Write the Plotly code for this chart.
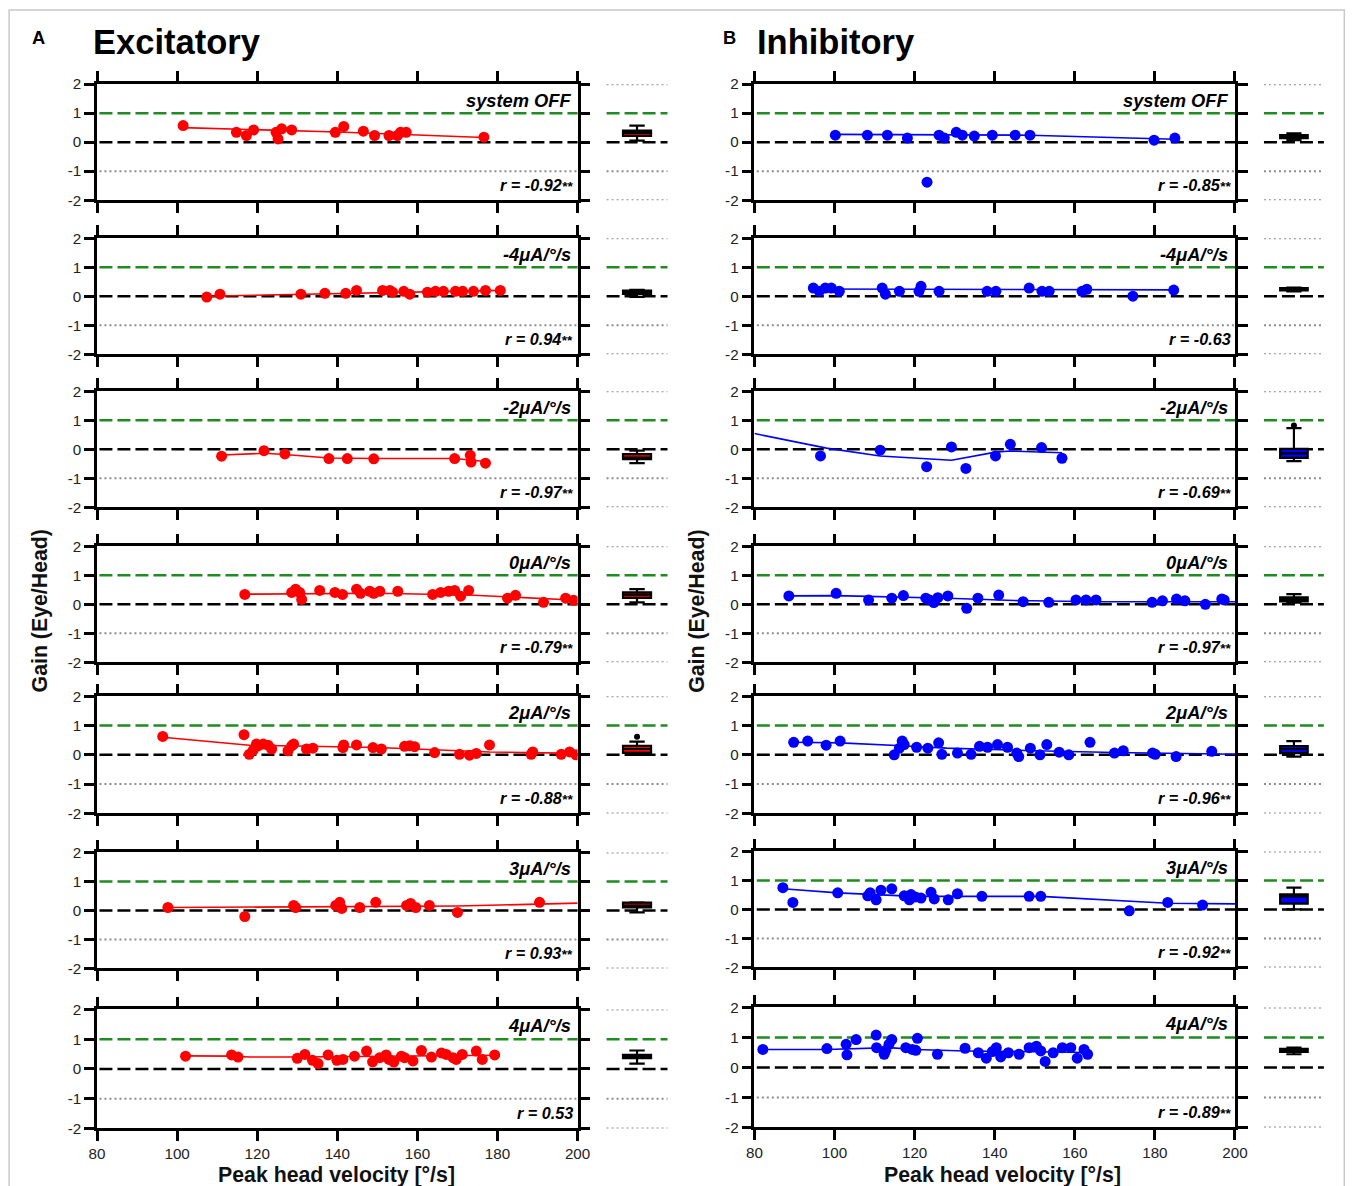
import plotly.graph_objects as go

# Measured from earlier renders: the photographed page appears at ~1356/1376 scale
# with the browser's default 8px body margin. Geometry below is given in reference
# pixels and converted to figure coordinates.
REF_W, REF_H = 1356, 1186
S = 1376 / 1356
OFF = 8
W, H = 1360, 1196

# ---------------- DATA ----------------
CONDITION_LABELS = ["system OFF", "-4μA/°/s", "-2μA/°/s", "0μA/°/s", "2μA/°/s", "3μA/°/s", "4μA/°/s"]
X_TICKS = [80, 100, 120, 140, 160, 180, 200]
Y_TICKS = [-2, -1, 0, 1, 2]
Y_TICK_TEXT = ["-2", "-1", "0", "1", "2"]

EXC_R = ["r = -0.92**", "r = 0.94**", "r = -0.97**", "r = -0.79**", "r = -0.88**", "r = 0.93**", "r = 0.53"]
INH_R = ["r = -0.85**", "r = -0.63", "r = -0.69**", "r = -0.97**", "r = -0.96**", "r = -0.92**", "r = -0.89**"]

# Excitatory
EXC_OFF_V = [101.5, 114.8, 117.3, 119.1, 124.7, 125.2, 126.1, 128.6, 139.5, 141.6, 146.5, 149.3, 152.9, 155.0, 155.8, 157.2, 176.6]
EXC_OFF_G = [0.57, 0.34, 0.23, 0.42, 0.34, 0.11, 0.46, 0.42, 0.34, 0.54, 0.38, 0.23, 0.23, 0.23, 0.34, 0.34, 0.17]
EXC_OFF_FIT_V = [101.5, 140.0, 176.6]
EXC_OFF_FIT_G = [0.50, 0.35, 0.16]

EXC_M4_V = [107.4, 110.7, 130.9, 136.9, 142.1, 144.8, 151.3, 153.1, 153.8, 156.6, 158.1, 162.5, 164.5, 166.5, 169.5, 171.3, 174.0, 177.0, 180.7]
EXC_M4_G = [-0.03, 0.07, 0.07, 0.10, 0.10, 0.20, 0.20, 0.20, 0.14, 0.17, 0.07, 0.14, 0.17, 0.17, 0.17, 0.17, 0.17, 0.20, 0.20]
EXC_M4_FIT_V = [107.4, 140.0, 180.7]
EXC_M4_FIT_G = [0.00, 0.10, 0.20]

EXC_M2_V = [111.1, 121.7, 126.9, 137.9, 142.5, 149.1, 169.3, 173.2, 173.4, 177.0]
EXC_M2_G = [-0.24, -0.05, -0.16, -0.32, -0.32, -0.33, -0.32, -0.21, -0.44, -0.48]
EXC_M2_FIT_V = [111.1, 121.7, 126.9, 137.9, 149.1, 169.3, 177.0]
EXC_M2_FIT_G = [-0.20, -0.14, -0.18, -0.30, -0.32, -0.32, -0.42]

EXC_0_V = [116.9, 128.6, 129.6, 130.6, 131.1, 135.6, 139.4, 141.3, 144.8, 145.8, 148.1, 149.1, 150.6, 155.1, 163.8, 165.8, 167.8, 169.3, 170.8, 172.8, 182.5, 184.5, 191.5, 197.0, 199.0]
EXC_0_G = [0.34, 0.41, 0.52, 0.41, 0.17, 0.48, 0.41, 0.34, 0.52, 0.38, 0.45, 0.38, 0.45, 0.45, 0.34, 0.41, 0.45, 0.48, 0.28, 0.48, 0.21, 0.31, 0.07, 0.21, 0.14]
EXC_0_FIT_V = [116.9, 150.0, 172.8, 200.0]
EXC_0_FIT_G = [0.35, 0.38, 0.32, 0.14]

EXC_2_V = [96.4, 116.7, 118.0, 119.0, 119.8, 120.2, 121.5, 122.7, 123.6, 127.7, 128.6, 129.1, 132.3, 133.9, 141.4, 141.6, 144.8, 148.9, 151.0, 156.8, 158.1, 159.3, 164.3, 170.5, 173.0, 174.7, 178.0, 188.4, 188.8, 195.9, 198.0, 199.6]
EXC_2_G = [0.63, 0.69, 0.02, 0.16, 0.37, 0.31, 0.37, 0.33, 0.20, 0.14, 0.31, 0.37, 0.20, 0.23, 0.25, 0.34, 0.34, 0.25, 0.20, 0.29, 0.31, 0.28, 0.08, 0.02, -0.01, 0.05, 0.34, 0.02, 0.10, 0.02, 0.10, 0.00]
EXC_2_FIT_V = [96.4, 118.0, 150.0, 178.0, 200.0]
EXC_2_FIT_G = [0.60, 0.33, 0.25, 0.10, 0.05]

EXC_3_V = [97.7, 116.9, 129.1, 129.6, 139.6, 140.6, 141.1, 145.6, 149.6, 157.3, 158.3, 159.6, 163.0, 170.0, 190.5]
EXC_3_G = [0.10, -0.21, 0.17, 0.10, 0.17, 0.28, 0.07, 0.10, 0.28, 0.17, 0.24, 0.10, 0.17, -0.07, 0.28]
EXC_3_FIT_V = [97.7, 140.0, 170.0, 200.0]
EXC_3_FIT_G = [0.10, 0.12, 0.15, 0.25]

EXC_4_V = [102.1, 113.6, 115.2, 130.0, 131.9, 133.8, 135.2, 137.7, 139.9, 141.4, 144.3, 147.3, 148.8, 150.6, 152.2, 152.9, 154.1, 156.0, 156.8, 158.9, 161.0, 163.5, 166.0, 167.2, 168.9, 169.7, 171.2, 174.7, 176.2, 179.3]
EXC_4_G = [0.43, 0.47, 0.40, 0.36, 0.49, 0.29, 0.18, 0.47, 0.29, 0.32, 0.43, 0.60, 0.24, 0.38, 0.47, 0.32, 0.23, 0.43, 0.38, 0.27, 0.62, 0.40, 0.54, 0.49, 0.38, 0.32, 0.49, 0.60, 0.32, 0.47]
EXC_4_FIT_V = [102.1, 113.6, 118.0, 130.0, 179.3]
EXC_4_FIT_G = [0.44, 0.43, 0.40, 0.40, 0.46]

# Inhibitory
INH_OFF_V = [100.2, 108.2, 113.2, 118.2, 123.1, 126.1, 127.4, 130.4, 131.9, 134.9, 139.4, 145.1, 148.8, 179.8, 185.0]
INH_OFF_G = [0.24, 0.24, 0.24, 0.14, -1.38, 0.24, 0.14, 0.34, 0.24, 0.21, 0.24, 0.24, 0.24, 0.07, 0.14]
INH_OFF_FIT_V = [100.2, 148.8, 185.0]
INH_OFF_FIT_G = [0.27, 0.24, 0.10]

INH_M4_V = [94.7, 96.2, 97.7, 99.2, 101.2, 111.9, 112.7, 116.2, 121.1, 121.6, 126.1, 138.1, 140.3, 148.6, 151.8, 153.6, 161.8, 163.0, 174.5, 184.7]
INH_M4_G = [0.28, 0.17, 0.28, 0.28, 0.17, 0.28, 0.07, 0.17, 0.17, 0.34, 0.17, 0.17, 0.17, 0.28, 0.17, 0.17, 0.17, 0.24, 0.00, 0.21]
INH_M4_FIT_V = [94.7, 184.7]
INH_M4_FIT_G = [0.25, 0.22]

INH_M2_V = [96.5, 111.4, 123.0, 129.2, 132.8, 140.2, 143.9, 151.7, 156.8]
INH_M2_G = [-0.23, -0.03, -0.60, 0.08, -0.66, -0.23, 0.17, 0.06, -0.31]
INH_M2_FIT_V = [80.0, 98.0, 111.4, 129.2, 140.2, 143.9, 156.8]
INH_M2_FIT_G = [0.54, 0.04, -0.23, -0.38, -0.10, -0.06, -0.12]

INH_0_V = [88.6, 100.4, 108.5, 114.3, 117.2, 122.8, 123.7, 124.8, 125.8, 128.3, 133.0, 135.8, 141.0, 147.1, 153.5, 160.3, 162.8, 165.3, 179.3, 181.9, 185.4, 187.5, 192.6, 196.7, 197.3]
INH_0_G = [0.29, 0.38, 0.15, 0.21, 0.30, 0.21, 0.15, 0.06, 0.23, 0.29, -0.14, 0.21, 0.32, 0.09, 0.07, 0.15, 0.15, 0.15, 0.07, 0.12, 0.18, 0.12, 0.00, 0.18, 0.15]
INH_0_FIT_V = [88.6, 100.4, 128.3, 145.0, 165.3, 200.0]
INH_0_FIT_G = [0.29, 0.30, 0.21, 0.13, 0.09, 0.09]

INH_2_V = [89.8, 93.3, 97.9, 101.4, 114.9, 116.2, 116.9, 117.4, 120.5, 123.3, 126.0, 126.8, 130.7, 134.1, 136.2, 138.2, 140.7, 143.2, 145.5, 146.0, 148.9, 151.3, 153.0, 156.1, 158.5, 163.8, 169.9, 172.1, 179.4, 180.1, 185.3, 194.2]
INH_2_G = [0.43, 0.47, 0.33, 0.47, 0.00, 0.23, 0.47, 0.35, 0.26, 0.23, 0.41, 0.02, 0.06, 0.02, 0.29, 0.26, 0.35, 0.26, 0.06, -0.06, 0.23, 0.00, 0.35, 0.09, 0.00, 0.43, 0.06, 0.14, 0.06, 0.02, -0.06, 0.12]
INH_2_FIT_V = [89.8, 101.4, 116.9, 128.0, 150.0, 170.0, 200.0]
INH_2_FIT_G = [0.43, 0.41, 0.31, 0.23, 0.14, 0.08, 0.02]

INH_3_V = [87.1, 89.6, 100.8, 108.3, 108.9, 110.4, 111.6, 114.3, 117.4, 118.7, 119.1, 120.2, 121.6, 124.1, 124.9, 128.4, 130.7, 136.8, 148.6, 151.5, 173.6, 183.2, 191.9]
INH_3_G = [0.75, 0.24, 0.57, 0.47, 0.57, 0.33, 0.66, 0.71, 0.47, 0.33, 0.51, 0.43, 0.39, 0.59, 0.36, 0.33, 0.54, 0.45, 0.45, 0.45, -0.05, 0.24, 0.15]
INH_3_FIT_V = [87.1, 100.8, 120.0, 151.5, 183.2, 200.0]
INH_3_FIT_G = [0.71, 0.57, 0.45, 0.45, 0.21, 0.19]

INH_4_V = [82.1, 98.1, 102.9, 103.1, 105.4, 110.4, 110.5, 112.4, 112.8, 113.6, 114.3, 117.8, 119.4, 120.3, 120.7, 125.7, 132.6, 135.9, 137.9, 139.4, 140.4, 141.5, 143.4, 146.1, 148.6, 150.4, 151.5, 152.6, 154.6, 156.9, 159.0, 160.6, 162.3, 163.2]
INH_4_G = [0.60, 0.63, 0.77, 0.42, 0.93, 1.08, 0.66, 0.44, 0.57, 0.77, 0.93, 0.66, 0.60, 0.57, 0.97, 0.44, 0.64, 0.49, 0.31, 0.53, 0.66, 0.35, 0.49, 0.44, 0.66, 0.71, 0.55, 0.20, 0.49, 0.66, 0.66, 0.31, 0.60, 0.44]
INH_4_FIT_V = [82.1, 98.1, 113.6, 120.3, 132.6, 163.2]
INH_4_FIT_G = [0.60, 0.60, 0.66, 0.60, 0.55, 0.50]

# Box summaries: [lower whisker, q1, median, q3, upper whisker]
EXC_BOX = [
    [0.05, 0.22, 0.32, 0.40, 0.57],
    [-0.02, 0.08, 0.15, 0.19, 0.22],
    [-0.48, -0.34, -0.29, -0.17, -0.05],
    [0.07, 0.22, 0.33, 0.41, 0.52],
    [0.00, 0.07, 0.20, 0.31, 0.45],
    [-0.07, 0.10, 0.17, 0.27, 0.28],
    [0.18, 0.36, 0.42, 0.47, 0.62],
]
INH_BOX = [
    [0.07, 0.14, 0.20, 0.24, 0.30],
    [0.17, 0.20, 0.24, 0.28, 0.30],
    [-0.41, -0.30, -0.14, 0.01, 0.73],
    [0.06, 0.10, 0.17, 0.24, 0.35],
    [-0.06, 0.06, 0.20, 0.30, 0.47],
    [0.00, 0.20, 0.45, 0.52, 0.75],
    [0.44, 0.52, 0.57, 0.62, 0.66],
]
EXC_BOX_OUTLIERS = [[], [], [], [], [0.62], [], []]
INH_BOX_OUTLIERS = [[], [], [0.82], [], [], [], []]

EXC_PANELS = [
    (EXC_OFF_V, EXC_OFF_G, EXC_OFF_FIT_V, EXC_OFF_FIT_G),
    (EXC_M4_V, EXC_M4_G, EXC_M4_FIT_V, EXC_M4_FIT_G),
    (EXC_M2_V, EXC_M2_G, EXC_M2_FIT_V, EXC_M2_FIT_G),
    (EXC_0_V, EXC_0_G, EXC_0_FIT_V, EXC_0_FIT_G),
    (EXC_2_V, EXC_2_G, EXC_2_FIT_V, EXC_2_FIT_G),
    (EXC_3_V, EXC_3_G, EXC_3_FIT_V, EXC_3_FIT_G),
    (EXC_4_V, EXC_4_G, EXC_4_FIT_V, EXC_4_FIT_G),
]
INH_PANELS = [
    (INH_OFF_V, INH_OFF_G, INH_OFF_FIT_V, INH_OFF_FIT_G),
    (INH_M4_V, INH_M4_G, INH_M4_FIT_V, INH_M4_FIT_G),
    (INH_M2_V, INH_M2_G, INH_M2_FIT_V, INH_M2_FIT_G),
    (INH_0_V, INH_0_G, INH_0_FIT_V, INH_0_FIT_G),
    (INH_2_V, INH_2_G, INH_2_FIT_V, INH_2_FIT_G),
    (INH_3_V, INH_3_G, INH_3_FIT_V, INH_3_FIT_G),
    (INH_4_V, INH_4_G, INH_4_FIT_V, INH_4_FIT_G),
]

# ---------------- LAYOUT GEOMETRY (reference pixels) ----------------
ROWS_PX = {
    0: [(83, 199), (237, 353), (390, 506), (545, 661), (695, 812), (851, 967), (1008, 1127)],
    1: [(83, 199), (237, 353), (390, 506), (545, 661), (695, 812), (850, 966), (1006, 1126)],
}
MAIN_X_PX = {0: (97, 578), 1: (755, 1236)}
BOX_X_PX = {0: (607, 668), 1: (1265, 1325)}
COLORS = {0: "#FF0000", 1: "#0000FF"}
FONT = "Arial, 'Liberation Sans', sans-serif"


def px_x(p):
    return (p * S - OFF) / W


def px_y(p):
    return 1 - (p * S - OFF) / H


def fs(size):
    return round(size * S, 1)


fig = go.Figure()
layout = {}
shapes = []
annotations = []

GREEN = "#1E8C1E"
DOT = "#8C8C8C"


def ax_name(prefix, n):
    return prefix if n == 1 else f"{prefix}{n}"


def ref(prefix, n):
    return prefix if n == 1 else f"{prefix}{n}"


for col in range(2):
    panels = EXC_PANELS if col == 0 else INH_PANELS
    boxes = EXC_BOX if col == 0 else INH_BOX
    outl = EXC_BOX_OUTLIERS if col == 0 else INH_BOX_OUTLIERS
    rtexts = EXC_R if col == 0 else INH_R
    color = COLORS[col]
    for row in range(7):
        idx = col * 7 + row
        ma = 2 * idx + 1
        ba = 2 * idx + 2
        top, bot = ROWS_PX[col][row]
        ydom = [px_y(bot), px_y(top)]
        mx0, mx1 = MAIN_X_PX[col]
        bx0, bx1 = BOX_X_PX[col]

        axis_style = dict(showline=True, linewidth=2.5, linecolor="black", mirror="ticks",
                          ticks="outside", ticklen=10, tickwidth=2.5, tickcolor="black",
                          showgrid=False, zeroline=False,
                          tickfont=dict(family=FONT, size=fs(15), color="#222"))
        layout[ax_name("xaxis", ma)] = dict(domain=[px_x(mx0), px_x(mx1)], range=[80, 200],
                                            anchor=ref("y", ma), tickvals=X_TICKS,
                                            ticktext=[str(t) for t in X_TICKS],
                                            showticklabels=(row == 6), **axis_style)
        layout[ax_name("yaxis", ma)] = dict(domain=ydom, range=[-2, 2], anchor=ref("x", ma),
                                            tickvals=Y_TICKS, ticktext=Y_TICK_TEXT,
                                            showticklabels=True, **axis_style)
        layout[ax_name("xaxis", ba)] = dict(domain=[px_x(bx0), px_x(bx1)], range=[0, 1],
                                            anchor=ref("y", ba), visible=False)
        layout[ax_name("yaxis", ba)] = dict(domain=ydom, range=[-2, 2],
                                            anchor=ref("x", ba), visible=False)

        v, g, fv, fg = panels[row]
        xr, yr = ref("x", ma), ref("y", ma)
        for yv, c, dash, w in [(1, GREEN, "13px,5px", 2.5), (0, "black", "13px,5px", 2.5),
                               (-1, DOT, "2px,3px", 2)]:
            shapes.append(dict(type="line", xref=f"{xr} domain", yref=yr, x0=0.005, x1=1,
                               y0=yv, y1=yv, line=dict(color=c, dash=dash, width=w), layer="below"))
        bxr, byr = ref("x", ba), ref("y", ba)
        for yv, c, dash, w in [(2, DOT, "2px,3px", 2), (1, GREEN, "13px,5px", 2.5),
                               (0, "black", "13px,5px", 2.5), (-1, DOT, "2px,3px", 2),
                               (-2, DOT, "2px,3px", 2)]:
            shapes.append(dict(type="line", xref=f"{bxr} domain", yref=byr, x0=0, x1=1,
                               y0=yv, y1=yv, line=dict(color=c, dash=dash, width=w), layer="below"))

        fig.add_trace(go.Scatter(x=fv, y=fg, mode="lines", xaxis=xr, yaxis=yr,
                                 line=dict(color=color, width=1.6), showlegend=False,
                                 hoverinfo="skip"))
        fig.add_trace(go.Scatter(x=v, y=g, mode="markers", xaxis=xr, yaxis=yr,
                                 marker=dict(color=color, size=11), showlegend=False))

        lo, q1, med, q3, hi = boxes[row]
        fig.add_trace(go.Box(x=[0.5], q1=[q1], median=[med], q3=[q3], lowerfence=[lo],
                             upperfence=[hi], width=0.46, whiskerwidth=0.55,
                             fillcolor=color, line=dict(color="black", width=2.2),
                             xaxis=bxr, yaxis=byr, showlegend=False, boxpoints=False))
        if outl[row]:
            fig.add_trace(go.Scatter(x=[0.5] * len(outl[row]), y=outl[row], mode="markers",
                                     xaxis=bxr, yaxis=byr, marker=dict(color="black", size=6),
                                     showlegend=False))

        annotations.append(dict(xref=f"{xr} domain", yref=yr, x=0.99, y=1.45,
                                xanchor="right", yanchor="middle", showarrow=False,
                                text=f"<b><i>{CONDITION_LABELS[row]}</i></b>",
                                font=dict(family=FONT, size=fs(18), color="black")))
        rt = rtexts[row]
        if rt.endswith("**"):
            rt = rt[:-2] + "<span style='font-size:13.5px'>**</span>"
        annotations.append(dict(xref=f"{xr} domain", yref=yr, x=0.995, y=-1.48,
                                xanchor="right", yanchor="middle", showarrow=False,
                                text=f"<b><i>{rt}</i></b>",
                                font=dict(family=FONT, size=fs(16), color="black")))

for txt, xp, yp, size in [("<b>A</b>", 38, 36, 18), ("<b>B</b>", 730, 36, 18)]:
    annotations.append(dict(xref="paper", yref="paper", x=px_x(xp), y=px_y(yp), text=txt,
                            showarrow=False, xanchor="center", yanchor="middle",
                            font=dict(family=FONT, size=fs(size), color="black")))
for txt, xp in [("<b>Excitatory</b>", 91), ("<b>Inhibitory</b>", 756)]:
    annotations.append(dict(xref="paper", yref="paper", x=px_x(xp), y=px_y(41), text=txt,
                            showarrow=False, xanchor="left", yanchor="middle",
                            font=dict(family=FONT, size=fs(34), color="black")))
for xp in [40, 698]:
    annotations.append(dict(xref="paper", yref="paper", x=px_x(xp), y=px_y(610),
                            text="<b>Gain (Eye/Head)</b>", textangle=-90, showarrow=False,
                            xanchor="center", yanchor="middle",
                            font=dict(family=FONT, size=fs(21), color="#111")))
for xp in [337, 1003]:
    annotations.append(dict(xref="paper", yref="paper", x=px_x(xp), y=px_y(1174),
                            text="<b>Peak head velocity [°/s]</b>", showarrow=False,
                            xanchor="center", yanchor="middle",
                            font=dict(family=FONT, size=fs(21), color="#111")))

shapes.append(dict(type="rect", xref="paper", yref="paper", x0=px_x(9), x1=min(px_x(1351), 0.998),
                   y0=px_y(1200), y1=px_y(9), line=dict(color="#C8C8C8", width=1.5),
                   layer="below"))

fig.update_layout(width=W, height=H, margin=dict(l=0, r=0, t=0, b=0),
                  paper_bgcolor="white", plot_bgcolor="rgba(0,0,0,0)",
                  shapes=shapes, annotations=annotations, showlegend=False,
                  font=dict(family=FONT), **layout)

fig.write_html("out.html")
